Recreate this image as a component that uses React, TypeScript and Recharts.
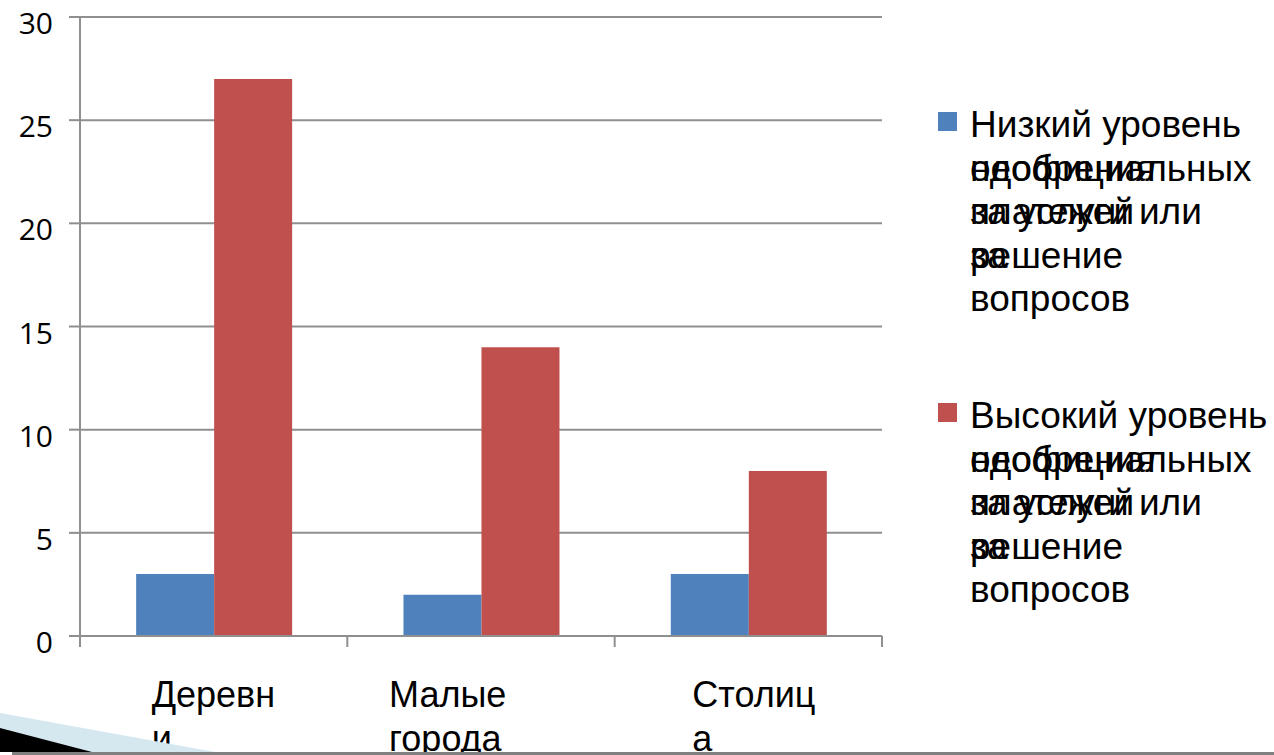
import { BarChart, Bar, XAxis, YAxis, CartesianGrid, Legend } from 'recharts';

const CATEGORIES = ['Деревни', 'Малые города', 'Столица'];
// how the category names wrap under the axis in the original
const CATEGORY_LINES = [
  ['Деревн', 'и'],
  ['Малые', 'города'],
  ['Столиц', 'а'],
];
const LOW_APPROVAL = [3, 2, 3];
const HIGH_APPROVAL = [27, 14, 8];
const Y_TICKS = [0, 5, 10, 15, 20, 25, 30];

const SERIES_LOW = 'Низкий уровень одобрения неофициальных платежей за услуги или за решение вопросов';
const SERIES_HIGH = 'Высокий уровень одобрения неофициальных платежей за услуги или за решение вопросов';

// legend rows as the source renders them (some rows print on top of each other)
const LEGEND_ROWS: Record<string, string[][]> = {
  low: [['Низкий уровень'], ['одобрения', 'неофициальных'], ['платежей', 'за услуги или'], ['за', 'решение'], ['вопросов']],
  high: [['Высокий уровень'], ['одобрения', 'неофициальных'], ['платежей', 'за услуги или'], ['за', 'решение'], ['вопросов']],
};
const LEGEND_ORDER = ['low', 'high'];

const data = CATEGORIES.map((name, i) => ({
  name,
  low: LOW_APPROVAL[i],
  high: HIGH_APPROVAL[i],
}));

const W = 1274;
const H = 755;
const MARGIN = { top: 17, right: 392, bottom: 0, left: 0 };
const Y_AXIS_W = 80;
const PLOT_W = W - MARGIN.left - MARGIN.right - Y_AXIS_W;
const AXIS = '#8f8f8f';
const TEXT_FONT = '"Liberation Sans", Arial, sans-serif';
const LABEL_SHIFT = [-62, -92, -56];

function CategoryTick(props: any) {
  const { x, y, index } = props;
  const lines = CATEGORY_LINES[index] ?? [];
  const band = PLOT_W / CATEGORIES.length;
  const tx = x + LABEL_SHIFT[index];
  return (
    <g>
      <line x1={x - band / 2} y1={y} x2={x - band / 2} y2={y + 11} stroke={AXIS} strokeWidth={2} />
      {index === CATEGORIES.length - 1 && (
        <line x1={x + band / 2} y1={y} x2={x + band / 2} y2={y + 11} stroke={AXIS} strokeWidth={2} />
      )}
      <text fontFamily={TEXT_FONT} fontSize={36} fill="#000">
        {lines.map((l, i) => (
          <tspan key={i} x={tx} y={y + 71 + i * 44}>{l}</tspan>
        ))}
      </text>
    </g>
  );
}

function ValueTick(props: any) {
  const { x, y, payload } = props;
  return (
    <text x={x} y={y + 17} textAnchor="end" fontFamily='"Open Sans", sans-serif' fontSize={30} fill="#000">
      {payload.value}
    </text>
  );
}

function LegendBlock({ payload }: any) {
  const entries = [...(payload ?? [])].sort(
    (a: any, b: any) => LEGEND_ORDER.indexOf(a.dataKey) - LEGEND_ORDER.indexOf(b.dataKey)
  );
  return (
    <svg width={344} height={540}>
      {entries.map((entry: any, i: number) => {
        const top = i * 291;
        const rows = LEGEND_ROWS[entry.dataKey] ?? [[entry.value]];
        return (
          <g key={entry.dataKey}>
            <rect x={8} y={top + 17} width={19} height={19} fill={entry.color} />
            {rows.map((row, r) =>
              row.map((t, k) => (
                <text key={`${r}-${k}`} x={40} y={top + 42 + r * 43.5} fontFamily={TEXT_FONT} fontSize={37} fill="#000">
                  {t}
                </text>
              ))
            )}
          </g>
        );
      })}
    </svg>
  );
}

export default function App() {
  return (
    <div style={{ position: 'absolute', left: 0, top: 0, width: W, height: H, background: '#fff' }}>
      <BarChart width={W} height={H} data={data} margin={MARGIN} barCategoryGap="21%" barGap={0}>
        <CartesianGrid horizontal vertical={false} stroke={AXIS} strokeWidth={2} />
        <XAxis
          dataKey="name"
          height={H - 636}
          interval={0}
          tickSize={0}
          tickMargin={0}
          tickLine={false}
          axisLine={{ stroke: AXIS, strokeWidth: 2 }}
          tick={CategoryTick}
        />
        <YAxis
          width={Y_AXIS_W}
          domain={[0, 30]}
          ticks={Y_TICKS}
          interval={0}
          tickSize={11}
          tickMargin={16}
          tickLine={{ stroke: AXIS, strokeWidth: 2 }}
          axisLine={{ stroke: AXIS, strokeWidth: 2 }}
          tick={ValueTick}
        />
        <Legend
          layout="horizontal"
          verticalAlign="middle"
          align="center"
          wrapperStyle={{ left: 930, top: 95, width: 344, height: 540 }}
          content={LegendBlock}
        />
        <Bar dataKey="low" name={SERIES_LOW} fill="#4F81BD" isAnimationActive={false} />
        <Bar dataKey="high" name={SERIES_HIGH} fill="#C0504D" isAnimationActive={false} />
      </BarChart>
      {/* slide decoration along the bottom edge */}
      <svg width={W} height={H} style={{ position: 'absolute', left: 0, top: 0, pointerEvents: 'none' }}>
        <polygon points="0,713 215,752 0,752" fill="#d5e7ef" />
        <polygon points="0,728 92,752 0,752" fill="#000" />
        <rect x={12} y={752} width={W - 12} height={3} fill="#808080" />
      </svg>
    </div>
  );
}
